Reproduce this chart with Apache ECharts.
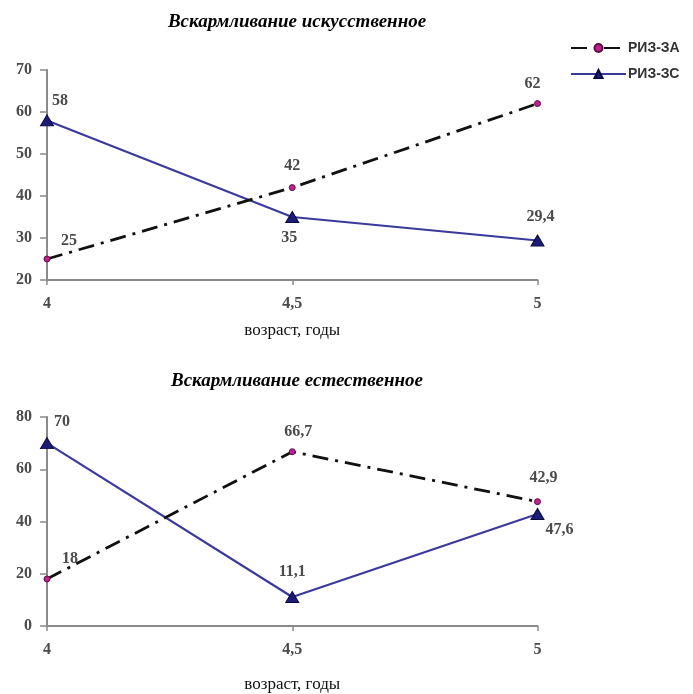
<!DOCTYPE html>
<html>
<head>
<meta charset="utf-8">
<script src="https://cdn.jsdelivr.net/npm/echarts@6/dist/echarts.min.js"></script>
<style>
html,body{margin:0;padding:0;background:#fff;}
#chart{width:693px;height:694px;}
</style>
</head>
<body>
<div id="chart"></div>
<script>
// ---- data ----
const ages = [4, 4.5, 5];
const seriesNames = ['РИЗ-ЗА', 'РИЗ-ЗС'];
const titles = ['Вскармливание искусственное', 'Вскармливание естественное'];
const axisName = 'возраст, годы';
const artificialA = [25, 42, 62];
const artificialC = [58, 35, 29.4];
const naturalA = [18, 66.7, 47.6];
const naturalC = [70, 11.1, 42.9];

// ---- styling / layout ----
const serif = '"Liberation Serif", "DejaVu Serif", serif';
const fmt = v => String(v).replace('.', ',');
const labelColor = '#4a4a4a';

// label offsets (styling) per point
const offA1 = [[22, -18], [0, -22], [-5, -20]];
const offC1 = [[13, -20], [-3, 21], [3, -24]];
const offA2 = [[23, -20], [6, -20], [22, 28]];
const offC2 = [[15, -21], [0, -25], [6, -36]];

function pts(vals, offs) {
  return vals.map((v, i) => ({
    value: [ages[i], v],
    label: { offset: offs[i] }
  }));
}

const lblBase = {
  show: true, position: 'inside', formatter: p => fmt(p.value[1]),
  fontFamily: serif, fontSize: 16, color: labelColor, fontWeight: 'bold'
};

const styleA = {
  type: 'line', symbol: 'circle', symbolSize: 6,
  itemStyle: { color: '#c0208f', borderColor: '#5a1040', borderWidth: 1 },
  lineStyle: { color: '#111', width: 2.8, type: [16, 7, 3, 7] },
  label: lblBase, z: 3
};
const styleC = {
  type: 'line', symbol: 'triangle', symbolSize: [13, 11],
  itemStyle: { color: '#1c1c78', borderColor: '#0a0a40', borderWidth: 1 },
  lineStyle: { color: '#3a3a9c', width: 2.2, type: 'solid' },
  label: lblBase, z: 2
};

const axisLineStyle = { lineStyle: { color: '#8a8a8a', width: 2 } };
function xAx(gi, gap) {
  return {
    gridIndex: gi, type: 'value', min: 4, max: 5, interval: 0.5,
    axisLine: axisLineStyle,
    axisTick: { show: true, length: 5, lineStyle: { color: '#8a8a8a', width: 1.5 } },
    splitLine: { show: false },
    axisLabel: { formatter: fmt, fontFamily: serif, fontSize: 16, color: labelColor, fontWeight: 'bold', margin: 16 },
    name: axisName, nameLocation: 'middle', nameGap: gap,
    nameTextStyle: { fontFamily: serif, fontSize: 17, color: '#111' }
  };
}
function yAx(gi, min, max, interval) {
  return {
    gridIndex: gi, type: 'value', min: min, max: max, interval: interval,
    axisLine: { show: true, lineStyle: { color: '#8a8a8a', width: 2 } },
    axisTick: { show: true, length: 7, lineStyle: { color: '#8a8a8a', width: 1.5 } },
    splitLine: { show: false },
    axisLabel: { fontFamily: serif, fontSize: 16, color: labelColor, fontWeight: 'bold', margin: 15 }
  };
}

const option = {
  animation: false,
  backgroundColor: '#fff',
  title: [
    { text: titles[0], left: 292, top: 8, textAlign: 'center',
      textStyle: { fontFamily: serif, fontSize: 19, fontWeight: 'bold', fontStyle: 'italic', color: '#000' } },
    { text: titles[1], left: 292, top: 367, textAlign: 'center',
      textStyle: { fontFamily: serif, fontSize: 19, fontWeight: 'bold', fontStyle: 'italic', color: '#000' } }
  ],
  legend: {
    orient: 'vertical', left: 565, top: 36, itemWidth: 55, itemHeight: 10, itemGap: 12,
    data: seriesNames,
    textStyle: { fontFamily: '"Liberation Sans", Arial, sans-serif', fontSize: 14, fontWeight: 'bold', color: '#333', padding: [0, 0, 0, -3] }
  },
  grid: [
    { left: 47, right: 155.5, top: 70, height: 210 },
    { left: 47, right: 155.5, top: 417, height: 209 }
  ],
  xAxis: [xAx(0, 42), xAx(1, 50)],
  yAxis: [yAx(0, 20, 70, 10), yAx(1, 0, 80, 20)],
  series: [
    Object.assign({}, styleA, { name: seriesNames[0], xAxisIndex: 0, yAxisIndex: 0, data: pts(artificialA, offA1) }),
    Object.assign({}, styleC, { name: seriesNames[1], xAxisIndex: 0, yAxisIndex: 0, data: pts(artificialC, offC1) }),
    Object.assign({}, styleA, { name: seriesNames[0], xAxisIndex: 1, yAxisIndex: 1, data: pts(naturalA, offA2) }),
    Object.assign({}, styleC, { name: seriesNames[1], xAxisIndex: 1, yAxisIndex: 1, data: pts(naturalC, offC2) })
  ]
};

const chart = echarts.init(document.getElementById('chart'), null, { renderer: 'canvas' });
chart.setOption(option);
</script>
</body>
</html>
